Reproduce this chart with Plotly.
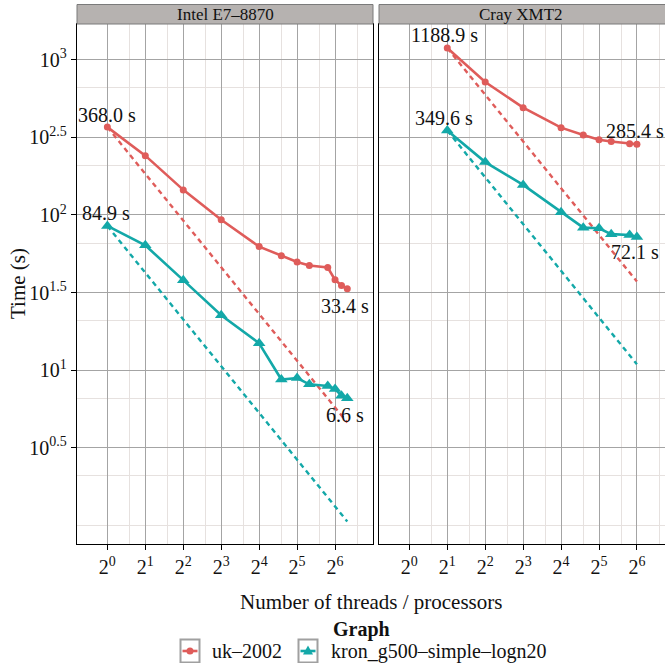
import numpy as np
import plotly.graph_objects as go

# ---------------- data ----------------
panels = ["Intel E7–8870", "Cray XMT2"]
series_names = ["uk–2002", "kron_g500–simple–logn20"]

intel_threads = [1, 2, 4, 8, 16, 24, 32, 40, 56, 64, 72, 80]
intel_uk = [368.0, 241, 145, 93, 62.5, 54.5, 49.8, 47.2, 45.8, 38.2, 35.1, 33.4]
intel_kron = [84.9, 63.7, 38.0, 22.6, 14.9, 8.7, 8.9, 8.1, 7.9, 7.55, 6.84, 6.6]

cray_threads = [2, 4, 8, 16, 24, 32, 40, 56, 64]
cray_uk = [1188.9, 718, 491, 365, 327, 305, 297, 287, 285.4]
cray_kron = [349.6, 219, 156, 104, 82.8, 82.0, 75.2, 74.3, 72.1]

# ideal (linear) scaling reference lines: start / end
intel_ideal_threads = [1, 80]
intel_ideal_uk = [368.0, 4.6]
intel_ideal_kron = [84.9, 1.06]
cray_ideal_threads = [2, 64]
cray_ideal_uk = [1188.9, 37.2]
cray_ideal_kron = [349.6, 10.9]

labels_intel = [("368.0 s", 1, 368.0, 0, 12), ("84.9 s", 1, 84.9, -1.5, 13),
                ("33.4 s", 80, 33.4, -2, -17), ("6.6 s", 80, 6.6, -2, -17)]
labels_cray = [("1188.9 s", 2, 1188.9, -3, 13), ("349.6 s", 2, 349.6, -3, 12.5),
               ("285.4 s", 64, 285.4, -2, 13), ("72.1 s", 64, 72.1, -2, -15.5)]

x_tickvals = [1, 2, 4, 8, 16, 32, 64]
x_ticktext = ["2<sup>%d</sup>" % k for k in range(7)]
y_tickvals = [10 ** 0.5, 10 ** 1, 10 ** 1.5, 10 ** 2, 10 ** 2.5, 10 ** 3]
y_ticktext = ["10<sup>0.5</sup>", "10<sup>1</sup>", "10<sup>1.5</sup>",
              "10<sup>2</sup>", "10<sup>2.5</sup>", "10<sup>3</sup>"]

# ---------------- styling ----------------
W, H = 665, 663
RED = "#DF5C5A"
TEAL = "#13A8A8"
FONT = "Liberation Serif"
MAJOR = "#A4A4A4"
MINOR = "#E6E1DF"
STRIP = "#B6B2B0"


def px(x):
    return x / W


def py(y):
    return 1 - y / H


x_minor = [1.5 * 2 ** k for k in range(7)] + [128]
y_minor = [1.0] + [(10 ** a + 10 ** (a + 0.5)) / 2 for a in np.arange(0, 3.0, 0.5)]

fig = go.Figure()

for (xr, yr, th, uk, kr, ith, iuk, ikr) in [
    ("x", "y", intel_threads, intel_uk, intel_kron, intel_ideal_threads, intel_ideal_uk, intel_ideal_kron),
    ("x2", "y2", cray_threads, cray_uk, cray_kron, cray_ideal_threads, cray_ideal_uk, cray_ideal_kron),
]:
    fig.add_trace(go.Scatter(x=ith, y=iuk, xaxis=xr, yaxis=yr, mode="lines",
                             line=dict(color=RED, width=2.4, dash="5px,4px"), showlegend=False))
    fig.add_trace(go.Scatter(x=ith, y=ikr, xaxis=xr, yaxis=yr, mode="lines",
                             line=dict(color=TEAL, width=2.4, dash="5px,4px"), showlegend=False))
    fig.add_trace(go.Scatter(x=th, y=uk, xaxis=xr, yaxis=yr, mode="lines+markers",
                             line=dict(color=RED, width=2.6),
                             marker=dict(symbol="circle", size=7, color=RED), showlegend=False))
    fig.add_trace(go.Scatter(x=th, y=kr, xaxis=xr, yaxis=yr, mode="lines+markers",
                             line=dict(color=TEAL, width=2.6),
                             marker=dict(symbol="triangle-up", size=11, color=TEAL), showlegend=False))

annotations = []
for labs, xr, yr in [(labels_intel, "x", "y"), (labels_cray, "x2", "y2")]:
    for (t, xv, yv, dx, dy) in labs:
        annotations.append(dict(text=t, x=np.log10(xv), y=np.log10(yv), xref=xr, yref=yr,
                                xanchor="center", yanchor="middle",
                                showarrow=False, xshift=dx, yshift=dy,
                                font=dict(family=FONT, size=20, color="#111111")))

axis_common = dict(type="log", showgrid=True, gridcolor=MAJOR, gridwidth=1.2,
                   zeroline=False, showline=True, linecolor="black", linewidth=1.3,
                   tickfont=dict(family=FONT, size=20, color="#111111"))

x_range = [np.log10(2 ** -0.8), np.log10(2 ** 7.0)]
x2_range = [np.log10(2 ** -0.8), np.log10(2 ** 6.74)]
y_range = [-0.12, 3.23]

fig.update_layout(
    width=W, height=H,
    margin=dict(l=0, r=0, t=0, b=0, autoexpand=False),
    plot_bgcolor="white", paper_bgcolor="white",
    showlegend=False,
    xaxis=dict(axis_common, domain=[px(77), px(373)], range=x_range, anchor="y",
               tickvals=x_tickvals, ticktext=x_ticktext, ticks="outside", ticklen=5,
               tickcolor="black", tickwidth=1.2, mirror=True,
               minor=dict(tickvals=x_minor, showgrid=True, gridcolor=MINOR, gridwidth=1.2, ticks="")),
    xaxis2=dict(axis_common, domain=[px(379), 1.0], range=x2_range, anchor="y2",
                tickvals=x_tickvals, ticktext=x_ticktext, ticks="outside", ticklen=5,
                tickcolor="black", tickwidth=1.2, mirror=True,
                minor=dict(tickvals=x_minor, showgrid=True, gridcolor=MINOR, gridwidth=1.2, ticks="")),
    yaxis=dict(axis_common, domain=[py(544), py(24)], range=y_range, anchor="x",
               tickvals=y_tickvals, ticktext=y_ticktext, ticks="outside", ticklen=5,
               tickcolor="black", tickwidth=1.2, mirror=True,
               minor=dict(tickvals=y_minor, showgrid=True, gridcolor=MINOR, gridwidth=1.2, ticks="")),
    yaxis2=dict(axis_common, domain=[py(544), py(24)], range=y_range, anchor="x2",
                tickvals=y_tickvals, showticklabels=False, ticks="", mirror=False,
                minor=dict(tickvals=y_minor, showgrid=True, gridcolor=MINOR, gridwidth=1.2, ticks="")),
)

shapes = []
# facet strips
for (x0, x1) in [(px(77), px(373)), (px(379), px(668))]:
    shapes.append(dict(type="rect", xref="paper", yref="paper", x0=x0, x1=x1,
                       y0=py(24), y1=py(4.5), fillcolor=STRIP,
                       line=dict(color="#7A7A7A", width=1)))


def ann(text, x, y, size, **kw):
    d = dict(text=text, x=px(x), y=py(y), xref="paper", yref="paper",
             xanchor="center", yanchor="middle", showarrow=False,
             font=dict(family=FONT, size=size, color="#111111"))
    d.update(kw)
    annotations.append(d)


ann(panels[0], 225, 14.5, 17)
ann(panels[1], 521, 14.5, 17)

# axis titles
ann("Time (s)", 18, 284, 21, textangle=-90)
ann("Number of threads / processors", 371, 602, 21)

# legend (manual)
ann("<b>Graph</b>", 361, 629, 20)
legend_items = [(series_names[0], RED, "circle", 180, 210), (series_names[1], TEAL, "triangle", 298, 329)]
for name, col, sym, bx, tx in legend_items:
    shapes.append(dict(type="rect", xref="paper", yref="paper",
                       x0=px(bx + 0.5), x1=px(bx + 19.5), y0=py(662.5), y1=py(639.5),
                       line=dict(color="#A0A0A0", width=2), fillcolor="white"))
    shapes.append(dict(type="line", xref="paper", yref="paper",
                       x0=px(bx + 2.5), x1=px(bx + 17.5), y0=py(651), y1=py(651),
                       line=dict(color=col, width=2.6)))
    cx = bx + 10
    if sym == "circle":
        shapes.append(dict(type="circle", xref="paper", yref="paper",
                           x0=px(cx - 3.5), x1=px(cx + 3.5), y0=py(654.5), y1=py(647.5),
                           fillcolor=col, line=dict(color=col, width=0)))
    else:
        path = "M %f %f L %f %f L %f %f Z" % (px(cx), py(645.5), px(cx - 5), py(654.5),
                                              px(cx + 5), py(654.5))
        shapes.append(dict(type="path", xref="paper", yref="paper", path=path,
                           fillcolor=col, line=dict(color=col, width=0)))
    ann(name, tx, 651, 20, xanchor="left")

fig.update_layout(shapes=shapes, annotations=annotations)
fig.write_html("out.html")
